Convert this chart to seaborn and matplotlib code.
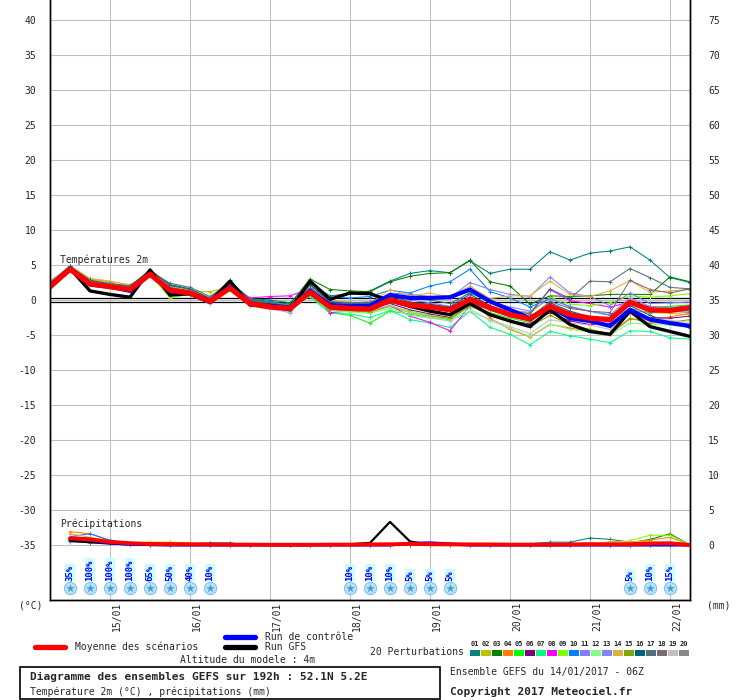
import matplotlib
matplotlib.use("Agg")
import numpy as np
import pandas as pd
import matplotlib.pyplot as plt
import seaborn as sns
from matplotlib.transforms import ScaledTranslation
from matplotlib.lines import Line2D
from matplotlib.patches import Rectangle

# ---------------- DATA ----------------
hours = [0, 6, 12, 18, 24, 30, 36, 42, 48, 54, 60, 66, 72, 78, 84, 90, 96,
         102, 108, 114, 120, 126, 132, 138, 144, 150, 156, 162, 168, 174, 180, 186, 192]

day_hours = [18, 42, 66, 90, 114, 138, 162, 186]
day_labels = ["15/01", "16/01", "17/01", "18/01", "19/01", "20/01", "21/01", "22/01"]

temp_ticks = [-35, -30, -25, -20, -15, -10, -5, 0, 5, 10, 15, 20, 25, 30, 35, 40]
right_ticks = [0, 5, 10, 15, 20, 25, 30, 35, 40, 45, 50, 55, 60, 65, 70, 75]

mean_temp = [1.9, 4.4, 2.3, 1.9, 1.5, 3.7, 1.4, 1.0, -0.2, 1.7, -0.5, -1.0, -1.2, 1.1, -1.0, -1.2, -1.3,
             0.0, -0.7, -1.0, -1.4, 0.1, -1.1, -2.1, -2.7, -0.9, -2.1, -2.6, -2.8, -0.3, -1.4, -1.5, -1.1]
ctrl_temp = [2.0, 4.5, 2.2, 1.9, 1.3, 3.7, 1.3, 0.9, -0.3, 1.9, -0.6, -0.8, -1.1, 1.3, -0.7, -0.9, -0.8,
             0.7, 0.3, 0.3, 0.4, 1.5, -0.2, -1.4, -2.6, -0.9, -2.6, -3.0, -3.7, -1.4, -2.8, -3.3, -3.7]
gfs_temp = [1.7, 4.5, 1.3, 0.8, 0.4, 4.3, 0.7, 0.9, -0.3, 2.7, -0.7, -0.9, -1.4, 2.7, 0.1, 1.0, 0.9,
            -0.1, -0.9, -1.6, -2.1, -0.5, -2.1, -3.0, -3.8, -1.4, -3.5, -4.5, -4.9, -1.6, -3.8, -4.5, -5.2]

pert_temp = {
    "01": [2.4, 4.8, 2.8, 2.3, 1.9, 4.1, 2.0, 1.5, 0.3, 2.6, 0.2, 0.0, -0.4, 2.4, 0.6, 0.9, 1.3,
           2.7, 3.8, 4.2, 3.9, 5.6, 3.8, 4.4, 4.4, 6.9, 5.7, 6.7, 7.0, 7.6, 5.7, 3.2, 2.5],
    "02": [2.0, 4.9, 3.0, 2.6, 2.2, 3.4, 1.2, 1.3, 1.2, 1.8, -0.1, -0.6, -0.9, 1.2, -0.8, -1.0, -0.7,
           0.3, -0.6, -1.2, -1.6, 0.2, -1.2, -2.0, -2.6, -1.0, -2.4, -3.2, -3.9, -1.5, -1.8, -1.9, -2.1],
    "03": [2.3, 4.7, 2.7, 2.2, 1.7, 4.2, 2.1, 1.4, 0.2, 2.4, 0.1, -0.2, -0.6, 3.0, 1.5, 1.3, 1.2,
           2.6, 3.4, 3.8, 3.9, 5.7, 2.6, 2.0, -0.6, 0.6, 0.5, 0.6, 0.8, 0.8, 0.8, 3.3, 2.6],
    "04": [2.6, 4.6, 2.9, 2.4, 1.9, 3.9, 1.8, 1.2, 0.0, 1.9, -0.5, -0.9, -1.1, 1.0, -1.2, -1.3, -1.5,
           0.2, -1.0, -1.6, -2.0, 0.4, -2.6, -4.2, -5.3, -3.5, -4.0, -4.5, -4.9, -2.7, -2.9, -2.4, -1.9],
    "05": [2.1, 4.8, 2.5, 2.1, 1.7, 4.0, 1.6, 1.1, -0.2, 1.6, -0.4, -0.8, -1.3, 0.6, -1.8, -2.2, -3.3,
           -1.6, -2.0, -2.5, -2.8, -0.8, -1.8, -2.6, -3.2, -0.9, -2.0, -2.8, -2.8, -0.6, -1.0, -0.9, -0.7],
    "06": [2.5, 4.6, 2.4, 2.0, 1.5, 3.8, 1.5, 1.0, -0.3, 1.9, -0.6, -1.0, -1.4, 0.9, -1.1, -1.3, -1.2,
           -0.5, -1.4, -2.0, -2.5, -0.6, -2.2, -3.0, -3.4, -1.8, -3.0, -3.5, -3.3, -2.0, -2.5, -2.6, -2.3],
    "07": [2.2, 4.5, 2.6, 2.2, 1.8, 3.7, 1.7, 1.2, -0.1, 1.7, -0.3, -0.7, -1.2, 0.5, -1.9, -2.0, -2.5,
           -1.5, -2.8, -3.3, -3.9, -1.6, -3.9, -4.9, -6.4, -4.5, -5.1, -5.6, -6.1, -4.4, -4.5, -5.4, -5.6],
    "08": [2.7, 4.7, 2.7, 2.3, 1.8, 4.0, 1.9, 1.3, 0.2, 2.1, 0.3, 0.5, 0.6, 1.6, -1.8, -1.6, -1.5,
           -0.8, -2.3, -3.2, -4.4, -0.8, -1.2, -1.5, -1.8, 1.5, -0.1, -0.5, -1.0, -0.3, -1.6, -1.4, -1.2],
    "09": [2.0, 4.6, 2.5, 2.0, 1.6, 3.6, 0.3, 0.8, -0.2, 1.5, -0.8, -1.1, -1.5, 0.8, -1.3, -1.6, -1.8,
           -0.8, -1.6, -2.2, -2.7, 0.0, -1.0, -1.5, -1.9, 0.4, -0.6, -0.8, -0.4, 0.6, 0.4, 0.6, 0.9],
    "10": [2.4, 4.9, 2.7, 2.3, 1.9, 4.2, 2.0, 1.4, 0.1, 2.3, 0.0, -0.3, -0.7, 1.9, 0.4, 0.3, 0.5,
           1.4, 1.0, 2.0, 2.6, 4.4, 1.2, 0.3, -1.0, 0.2, -1.0, -1.6, -2.2, -0.6, -1.3, -1.4, -1.6],
    "11": [2.3, 4.7, 2.6, 2.1, 1.6, 3.9, 1.6, 1.2, -0.4, 1.8, -0.6, -0.9, -1.6, 1.1, -0.4, -0.6, -0.6,
           1.0, 0.8, 0.5, 0.3, 2.5, 1.5, 0.8, 0.5, 3.3, 1.0, 0.5, -0.8, 1.0, -0.5, -0.4, -0.3],
    "12": [2.1, 4.6, 2.4, 2.0, 1.5, 3.8, 1.5, 1.0, -0.3, 1.6, -0.5, -1.0, -1.2, 0.7, -1.5, -1.7, -1.9,
           -1.2, -2.2, -2.6, -3.0, -1.2, -3.0, -4.0, -5.2, -3.4, -4.2, -4.6, -5.0, -3.3, -3.5, -3.6, -3.9],
    "13": [2.5, 4.8, 2.8, 2.4, 1.9, 4.1, 1.8, 1.3, -0.5, 2.0, -0.7, -1.2, -1.8, 1.3, -0.9, -1.0, -0.8,
           0.5, 0.0, -0.4, -0.9, 1.2, -0.3, -1.0, -1.6, 0.2, -0.9, -1.6, -2.1, 0.3, -0.9, -1.1, -0.8],
    "14": [2.6, 4.9, 3.1, 2.7, 2.1, 4.0, 1.9, 1.4, 0.4, 2.2, -0.2, -0.4, -0.8, 1.8, 0.0, -0.3, -0.5,
           1.5, 0.6, 1.0, 0.4, 2.0, 0.2, 0.6, 0.6, 2.7, 0.8, 0.5, 1.3, 2.8, 1.1, 1.3, 1.5],
    "15": [2.2, 4.7, 2.6, 2.2, 1.8, 3.8, 0.6, 0.9, -0.1, 1.6, -0.7, -1.0, -1.3, 0.9, -1.4, -1.5, -1.7,
           -0.9, -1.8, -2.3, -2.6, -0.9, -2.0, -3.0, -3.8, -2.2, -3.5, -4.2, -4.8, -2.6, -3.3, -3.2, -2.8],
    "16": [2.4, 4.8, 2.8, 2.3, 2.0, 4.3, 2.2, 1.6, 0.2, 2.8, -0.1, -0.5, -0.8, 2.2, -0.3, -0.5, -0.6,
           0.6, -0.3, -0.6, -1.0, 0.8, -0.8, -2.0, -2.9, -0.4, -1.6, -2.4, -2.9, -0.8, -2.2, -3.2, -4.0],
    "17": [2.3, 4.7, 2.7, 2.3, 2.0, 4.1, 2.4, 1.8, 0.5, 2.5, 0.0, -0.4, -0.9, 1.7, -0.2, -0.4, -0.3,
           0.8, 0.2, 0.0, -0.5, 1.0, -0.3, -1.5, -2.0, 1.6, 0.2, 2.7, 2.6, 4.5, 3.2, 1.8, 1.6],
    "18": [2.2, 4.6, 2.6, 2.1, 1.7, 3.9, 1.8, 1.2, 0.0, 2.0, -0.4, -0.8, -1.1, 1.2, -0.8, -0.9, -1.0,
           0.2, -0.5, -1.0, -1.4, 0.5, -1.0, -2.0, -2.5, -0.2, -1.2, -1.6, -1.8, 2.8, 1.5, 1.0, 1.6],
    "19": [2.1, 4.6, 2.5, 2.0, 1.6, 3.8, 1.6, 1.1, -0.6, 1.8, -0.9, -1.3, -1.7, 0.8, -1.2, -1.4, -1.6,
           -0.7, -1.8, -2.4, -3.0, -1.6, -2.8, -3.8, -4.8, -2.8, -3.3, -3.6, -4.2, -2.0, -2.6, -2.9, -3.2],
    "20": [2.3, 4.7, 2.6, 2.2, 1.8, 3.9, 1.7, 1.2, -0.2, 1.9, -0.5, -0.9, -1.4, 1.0, -1.0, -1.2, -1.1,
           0.0, -1.0, -1.5, -2.0, -0.3, -1.5, -2.3, -3.0, -0.8, -1.8, -2.5, -2.8, -1.2, -1.8, -1.6, -1.8],
}

nan = float("nan")
mean_prec = [nan, 0.95, 0.8, 0.45, 0.25, 0.15, 0.12, 0.1, 0.08, 0.05, 0.05, 0.03, 0.03, 0.03, 0.05, 0.05, 0.08,
             0.1, 0.15, 0.12, 0.1, 0.08, 0.08, 0.05, 0.05, 0.05, 0.08, 0.12, 0.1, 0.1, 0.2, 0.25, 0.0]
ctrl_prec = [nan, 0.9, 0.7, 0.3, 0.1, 0.05, 0.0, 0.0, 0.0, 0.0, 0.0, 0.0, 0.0, 0.0, 0.0, 0.0, 0.0,
             0.0, 0.25, 0.3, 0.15, 0.0, 0.0, 0.0, 0.0, 0.0, 0.0, 0.0, 0.0, 0.0, 0.0, 0.0, 0.0]
gfs_prec = [nan, 0.6, 0.4, 0.2, 0.1, 0.0, 0.0, 0.0, 0.0, 0.0, 0.0, 0.0, 0.0, 0.0, 0.0, 0.1, 0.3,
            3.3, 0.5, 0.0, 0.0, 0.0, 0.0, 0.0, 0.0, 0.0, 0.0, 0.0, 0.0, 0.0, 0.0, 0.0, 0.0]

pert_prec = {
    "01": [nan, 1.0, 0.9, 0.5, 0.2, 0.1, 0.1, 0.2, 0.1, 0.0, 0.0, 0.0, 0.0, 0.0, 0.0, 0.0, 0.0,
           0.0, 0.0, 0.0, 0.0, 0.0, 0.0, 0.0, 0.2, 0.4, 0.4, 1.0, 0.8, 0.4, 0.3, 0.3, 0.0],
    "02": [nan, 0.8, 0.7, 0.4, 0.3, 0.4, 0.4, 0.3, 0.1, 0.0, 0.0, 0.0, 0.0, 0.0, 0.0, 0.0, 0.0,
           0.0, 0.0, 0.0, 0.0, 0.0, 0.0, 0.0, 0.0, 0.0, 0.0, 0.0, 0.0, 0.0, 0.0, 0.0, 0.0],
    "03": [nan, 0.9, 0.8, 0.6, 0.2, 0.1, 0.0, 0.0, 0.0, 0.0, 0.0, 0.0, 0.0, 0.0, 0.0, 0.0, 0.0,
           0.0, 0.0, 0.1, 0.2, 0.1, 0.0, 0.0, 0.0, 0.0, 0.0, 0.0, 0.0, 0.3, 0.8, 1.6, 0.0],
    "04": [nan, 1.9, 1.6, 0.6, 0.2, 0.0, 0.0, 0.0, 0.0, 0.0, 0.0, 0.0, 0.0, 0.0, 0.0, 0.0, 0.0,
           0.0, 0.0, 0.0, 0.0, 0.0, 0.0, 0.0, 0.0, 0.0, 0.0, 0.0, 0.0, 0.4, 0.7, 1.1, 0.0],
    "05": [nan, 0.7, 0.6, 0.5, 0.2, 0.0, 0.0, 0.0, 0.0, 0.0, 0.0, 0.0, 0.0, 0.0, 0.0, 0.0, 0.0,
           0.0, 0.0, 0.0, 0.0, 0.0, 0.0, 0.0, 0.0, 0.0, 0.0, 0.0, 0.0, 0.0, 0.0, 0.0, 0.0],
    "06": [nan, 0.5, 0.6, 0.3, 0.1, 0.0, 0.0, 0.0, 0.0, 0.0, 0.0, 0.0, 0.0, 0.0, 0.0, 0.0, 0.0,
           0.0, 0.0, 0.0, 0.0, 0.0, 0.0, 0.0, 0.0, 0.0, 0.0, 0.0, 0.0, 0.0, 0.0, 0.0, 0.0],
    "07": [nan, 0.8, 0.7, 0.4, 0.1, 0.0, 0.0, 0.0, 0.0, 0.0, 0.0, 0.0, 0.0, 0.0, 0.0, 0.0, 0.0,
           0.0, 0.0, 0.0, 0.0, 0.0, 0.0, 0.0, 0.0, 0.0, 0.0, 0.0, 0.0, 0.0, 0.0, 0.0, 0.0],
    "08": [nan, 1.2, 1.0, 0.5, 0.2, 0.0, 0.0, 0.0, 0.0, 0.0, 0.0, 0.0, 0.0, 0.0, 0.0, 0.0, 0.0,
           0.0, 0.0, 0.0, 0.0, 0.0, 0.0, 0.0, 0.0, 0.0, 0.0, 0.0, 0.0, 0.0, 0.0, 0.0, 0.0],
    "09": [nan, 0.6, 0.5, 0.4, 0.2, 0.0, 0.0, 0.0, 0.0, 0.0, 0.0, 0.0, 0.0, 0.0, 0.0, 0.0, 0.0,
           0.0, 0.0, 0.0, 0.0, 0.0, 0.0, 0.0, 0.0, 0.0, 0.0, 0.0, 0.3, 0.6, 1.4, 1.4, 0.0],
    "10": [nan, 1.2, 1.6, 0.7, 0.2, 0.0, 0.0, 0.0, 0.0, 0.0, 0.0, 0.0, 0.0, 0.0, 0.0, 0.0, 0.0,
           0.0, 0.3, 0.3, 0.1, 0.0, 0.0, 0.0, 0.0, 0.0, 0.0, 0.0, 0.0, 0.0, 0.0, 0.0, 0.0],
    "11": [nan, 0.6, 0.7, 0.4, 0.1, 0.0, 0.0, 0.0, 0.0, 0.0, 0.0, 0.0, 0.0, 0.0, 0.0, 0.0, 0.0,
           0.0, 0.0, 0.0, 0.0, 0.0, 0.0, 0.0, 0.0, 0.0, 0.0, 0.0, 0.0, 0.0, 0.0, 0.0, 0.0],
    "12": [nan, 1.0, 0.8, 0.4, 0.1, 0.0, 0.0, 0.0, 0.0, 0.0, 0.0, 0.0, 0.0, 0.0, 0.0, 0.0, 0.0,
           0.0, 0.0, 0.0, 0.0, 0.0, 0.0, 0.0, 0.0, 0.0, 0.0, 0.0, 0.0, 0.0, 0.0, 0.0, 0.0],
    "13": [nan, 0.4, 0.5, 0.3, 0.1, 0.0, 0.0, 0.0, 0.0, 0.0, 0.0, 0.0, 0.0, 0.0, 0.0, 0.0, 0.0,
           0.0, 0.0, 0.0, 0.0, 0.0, 0.0, 0.0, 0.0, 0.0, 0.0, 0.0, 0.0, 0.0, 0.0, 0.0, 0.0],
    "14": [nan, 1.6, 1.1, 0.5, 0.3, 0.2, 0.3, 0.2, 0.0, 0.0, 0.0, 0.0, 0.0, 0.0, 0.0, 0.0, 0.0,
           0.0, 0.0, 0.0, 0.0, 0.0, 0.0, 0.0, 0.0, 0.0, 0.0, 0.0, 0.5, 0.5, 0.5, 0.3, 0.0],
    "15": [nan, 0.7, 0.6, 0.3, 0.1, 0.0, 0.0, 0.0, 0.0, 0.0, 0.0, 0.0, 0.0, 0.0, 0.0, 0.0, 0.0,
           0.0, 0.0, 0.0, 0.0, 0.0, 0.0, 0.0, 0.0, 0.0, 0.0, 0.0, 0.0, 0.0, 0.0, 0.0, 0.0],
    "16": [nan, 0.6, 0.7, 0.4, 0.2, 0.2, 0.2, 0.2, 0.3, 0.3, 0.0, 0.0, 0.0, 0.0, 0.0, 0.0, 0.0,
           0.0, 0.0, 0.0, 0.0, 0.0, 0.0, 0.0, 0.0, 0.0, 0.0, 0.0, 0.0, 0.0, 0.0, 0.0, 0.0],
    "17": [nan, 0.5, 0.3, 0.3, 0.3, 0.2, 0.0, 0.0, 0.0, 0.0, 0.0, 0.0, 0.0, 0.0, 0.0, 0.0, 0.0,
           0.0, 0.0, 0.0, 0.0, 0.0, 0.0, 0.0, 0.0, 0.0, 0.0, 0.0, 0.0, 0.0, 0.0, 0.0, 0.0],
    "18": [nan, 0.8, 0.7, 0.3, 0.1, 0.0, 0.0, 0.0, 0.0, 0.0, 0.0, 0.0, 0.0, 0.0, 0.0, 0.0, 0.0,
           0.0, 0.0, 0.0, 0.0, 0.0, 0.0, 0.0, 0.0, 0.0, 0.0, 0.0, 0.0, 0.0, 0.0, 0.0, 0.0],
    "19": [nan, 0.6, 0.5, 0.3, 0.1, 0.0, 0.0, 0.0, 0.0, 0.0, 0.0, 0.0, 0.0, 0.0, 0.0, 0.0, 0.0,
           0.0, 0.0, 0.0, 0.0, 0.0, 0.0, 0.0, 0.0, 0.0, 0.0, 0.0, 0.0, 0.0, 0.0, 0.0, 0.0],
    "20": [nan, 0.7, 0.6, 0.4, 0.1, 0.0, 0.0, 0.0, 0.0, 0.0, 0.0, 0.0, 0.0, 0.0, 0.0, 0.0, 0.0,
           0.0, 0.0, 0.0, 0.0, 0.0, 0.0, 0.0, 0.0, 0.0, 0.0, 0.0, 0.0, 0.0, 0.0, 0.0, 0.0],
}

pert_colors = {
    "01": "#008080", "02": "#c0c000", "03": "#008000", "04": "#ff8000", "05": "#00ff00",
    "06": "#800080", "07": "#00ff80", "08": "#ff00ff", "09": "#80ff00", "10": "#0080ff",
    "11": "#8080ff", "12": "#80ff80", "13": "#8484f8", "14": "#e0b040", "15": "#80a800",
    "16": "#006080", "17": "#507078", "18": "#806870", "19": "#c0c0c0", "20": "#888888",
}

snow_hours = [6, 12, 18, 24, 30, 36, 42, 48, 90, 96, 102, 108, 114, 120, 174, 180, 186]
snow_pct = [35, 100, 100, 100, 65, 50, 40, 10, 10, 10, 10, 5, 5, 5, 5, 10, 15]

# ---------------- STYLE ----------------
sns.set_style("white")
plt.rcParams["font.family"] = ["DejaVu Sans Mono", "DejaVu Sans"]
plt.rcParams["axes.unicode_minus"] = False

W, H = 740, 700
fig = plt.figure(figsize=(W / 100, H / 100), dpi=100)
fig.patch.set_facecolor("white")
ax = fig.add_axes([50 / W, 100 / H, 640 / W, 600 / H])
YLO, YHI = -42.86, 42.86
ax.set_xlim(0, 192)
ax.set_ylim(YLO, YHI)
ax2 = ax.twinx()
ax2.set_ylim(YLO + 35, YHI + 35)

for a in (ax, ax2):
    a.set_facecolor("none")
    for s in ("left", "right", "bottom"):
        a.spines[s].set_visible(True)
        a.spines[s].set_color("black")
        a.spines[s].set_linewidth(1.0)
    a.spines["top"].set_visible(False)
    a.tick_params(length=0)

ax.set_yticks(temp_ticks)
ax.set_yticklabels([str(t) for t in temp_ticks], fontsize=7)
ax.tick_params(axis="y", pad=10)
ax2.set_yticks(right_ticks)
ax2.set_yticklabels([str(t) for t in right_ticks], fontsize=7)
ax2.tick_params(axis="y", pad=13)
ax.set_xticks(day_hours)
ax.set_xticklabels(day_labels, rotation=90, fontsize=7, va="top")
ax.tick_params(axis="x", pad=1)
for lbl in ax.get_xticklabels():
    lbl.set_transform(lbl.get_transform() + ScaledTranslation(7 / 100, 0, fig.dpi_scale_trans))

ax.grid(True, color="#c0c0c0", linewidth=0.8, zorder=0)
ax.set_axisbelow(True)
ax2.grid(False)

ax.axhline(0.25, color="black", lw=0.9, zorder=1.5)
ax.axhline(-0.25, color="black", lw=0.9, zorder=1.5)


def draw(a, y, color, lw, marker=None, ms=0, z=2):
    sns.lineplot(x=hours, y=y, ax=a, color=color, linewidth=lw, marker=marker,
                 markersize=ms, markeredgewidth=0.7, markeredgecolor=color,
                 zorder=z, legend=False, estimator=None, sort=False)


# temperatures
for k, vals in pert_temp.items():
    draw(ax, vals, pert_colors[k], 0.75, "+", 3.5, 2)
draw(ax, gfs_temp, "black", 2.4, z=3)
draw(ax, ctrl_temp, "#0000ff", 3.0, z=4)
draw(ax, mean_temp, "#ff0000", 3.8, z=5)

# precipitation (mm, on the right axis)
for k, vals in pert_prec.items():
    draw(ax2, vals, pert_colors[k], 0.75, "+", 3.5, 2)
draw(ax2, gfs_prec, "black", 1.6, z=3)
draw(ax2, ctrl_prec, "#0000ff", 2.2, z=4)
draw(ax2, mean_prec, "#ff0000", 2.8, z=5)
ax.set_xlabel("")
ax.set_ylabel("")
ax2.set_ylabel("")

# snow icons and probabilities
ax.scatter(snow_hours, [-41.15] * len(snow_hours), s=80, c="#b4e2f8",
           edgecolors="#7ab8e8", linewidths=0.6, zorder=6)
ax.scatter(snow_hours, [-41.15] * len(snow_hours), s=40, marker="*", c="#4a9ad8",
           linewidths=0, zorder=7)
for h, p in zip(snow_hours, snow_pct):
    ax.text(h, -40.1, f"{p}%", rotation=90, ha="center", va="bottom", fontsize=6.5,
            color="#0000ff", fontweight="bold", zorder=7,
            bbox=dict(facecolor="#c8ffff", edgecolor="none", pad=0.6))


def fx(px):
    return px / W


def fy(py):
    return 1 - py / H


fig.text(fx(60), fy(260), "Températures 2m", fontsize=7, va="center", ha="left")
fig.text(fx(60), fy(524), "Précipitations", fontsize=7, va="center", ha="left")
fig.text(fx(31), fy(606), "(°C)", fontsize=7, va="center", ha="center")
fig.text(fx(719), fy(606), "(mm)", fontsize=7, va="center", ha="center")

# legend
fig.add_artist(Line2D([fx(35), fx(65)], [fy(647), fy(647)], color="#ff0000", lw=3.8))
fig.text(fx(75), fy(647), "Moyenne des scénarios", fontsize=7, va="center")
fig.add_artist(Line2D([fx(225), fx(255)], [fy(637), fy(637)], color="#0000ff", lw=3.8))
fig.text(fx(265), fy(637), "Run de contrôle", fontsize=7, va="center")
fig.add_artist(Line2D([fx(225), fx(255)], [fy(647), fy(647)], color="black", lw=3.8))
fig.text(fx(265), fy(647), "Run GFS", fontsize=7, va="center")
fig.text(fx(180), fy(660), "Altitude du modele : 4m", fontsize=7, va="center")

fig.text(fx(370), fy(652), "20 Perturbations", fontsize=7, va="center")
for i, (k, c) in enumerate(pert_colors.items()):
    x0 = 470 + 11 * i
    fig.add_artist(Rectangle((fx(x0), fy(656)), 10 / W, 6 / H, transform=fig.transFigure,
                             facecolor=c, edgecolor="none"))
    fig.text(fx(x0 + 5), fy(644), k, fontsize=5, fontweight="bold", ha="center", va="center")

fig.add_artist(Rectangle((fx(20), fy(699)), 420 / W, 32 / H, transform=fig.transFigure,
                         facecolor="white", edgecolor="black", lw=1.2))
fig.text(fx(30), fy(677), "Diagramme des ensembles GEFS sur 192h : 52.1N 5.2E",
         fontsize=8, fontweight="bold", va="center")
fig.text(fx(30), fy(692), "Température 2m (°C) , précipitations (mm)", fontsize=7, va="center")
fig.text(fx(450), fy(672), "Ensemble GEFS du 14/01/2017 - 06Z", fontsize=7, va="center")
fig.text(fx(450), fy(692), "Copyright 2017 Meteociel.fr", fontsize=8, fontweight="bold",
         va="center")

fig.savefig("out.png", dpi=100, facecolor="white")
